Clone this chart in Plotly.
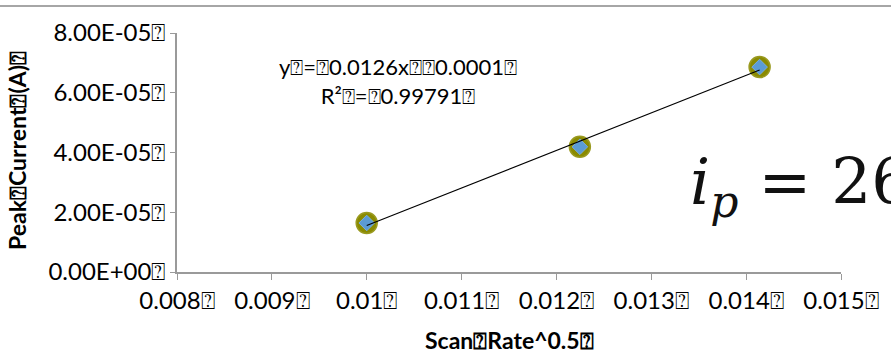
import numpy as np
import plotly.graph_objects as go

# ---- data ----
scan_rate_sqrt = [0.0100, 0.012247, 0.014142]
peak_current = [1.64e-5, 4.19e-5, 6.86e-5]

x_tick_vals = [0.008, 0.009, 0.010, 0.011, 0.012, 0.013, 0.014, 0.015]
x_tick_text = ["0.008⍰", "0.009⍰", "0.01⍰", "0.011⍰", "0.012⍰", "0.013⍰", "0.014⍰", "0.015⍰"]
y_tick_vals = [0.0, 2e-5, 4e-5, 6e-5, 8e-5]
y_tick_text = ["0.00E+00⍰", "2.00E-05⍰", "4.00E-05⍰", "6.00E-05⍰", "8.00E-05⍰"]

x_title = "Scan⍰Rate^0.5⍰"
y_title = "Peak⍰Current⍰(A)⍰"
eq_lines = ["y⍰=⍰0.0126x⍰⍰0.0001⍰", "R²⍰=⍰0.99791⍰"]
formula_text = "<i>i</i><sub><i>p</i></sub> = 268600"

# ---- linear trendline from the data ----
slope, intercept = np.polyfit(scan_rate_sqrt, peak_current, 1)
trend_x = [min(scan_rate_sqrt), max(scan_rate_sqrt)]
trend_y = [slope * v + intercept for v in trend_x]

FONT = "Lato"
GRAY = "#9a9a9a"

fig = go.Figure()
# olive rounded halo of the markers
fig.add_trace(go.Scatter(
    x=scan_rate_sqrt, y=peak_current, mode="markers",
    marker=dict(symbol="circle", size=21, color="#8a8a00",
                line=dict(color="#9a9a20", width=1.5)),
    showlegend=False, hoverinfo="skip"))
# blue diamond core
fig.add_trace(go.Scatter(
    x=scan_rate_sqrt, y=peak_current, mode="markers",
    marker=dict(symbol="diamond", size=12, color="#5b9bd5",
                line=dict(color="#78aee3", width=1)),
    showlegend=False, hoverinfo="skip"))
fig.add_trace(go.Scatter(
    x=trend_x, y=trend_y, mode="lines",
    line=dict(color="black", width=1.1),
    showlegend=False, hoverinfo="skip"))

L, R, T, B = 177, 50, 33, 90
W, H = 891, 362
pw, ph = W - L - R, H - T - B

def px_to_paper_x(px):
    return (px - L) / pw

def px_to_paper_y(py):
    return (H - B - py) / ph

fig.update_layout(
    width=W, height=H, autosize=False,
    margin=dict(l=L, r=R, t=T, b=B, pad=0),
    paper_bgcolor="white", plot_bgcolor="white",
    font=dict(family=FONT, size=24, color="black"),
    xaxis=dict(range=[0.008, 0.015], tickvals=x_tick_vals, ticktext=x_tick_text,
               showgrid=False, zeroline=False, showline=True, linecolor=GRAY, linewidth=1.5,
               ticks="outside", ticklen=6, tickcolor=GRAY, tickwidth=1.2,
               tickfont=dict(family=FONT, size=24)),
    yaxis=dict(range=[0, 8e-5], tickvals=y_tick_vals, ticktext=y_tick_text,
               showgrid=False, zeroline=False, showline=True, linecolor=GRAY, linewidth=1.5,
               ticks="outside", ticklen=5, tickcolor=GRAY, tickwidth=1.2,
               tickfont=dict(family=FONT, size=24)),
)

# top border line of the page
fig.add_shape(type="line", xref="paper", yref="paper",
              x0=px_to_paper_x(0), x1=px_to_paper_x(W),
              y0=px_to_paper_y(6), y1=px_to_paper_y(6),
              line=dict(color="#888888", width=1.5))

# axis titles
fig.add_annotation(xref="paper", yref="paper", x=px_to_paper_x(509), y=px_to_paper_y(340),
                   text="<b>" + x_title + "</b>", showarrow=False,
                   font=dict(family=FONT, size=23), xanchor="center", yanchor="middle")
fig.add_annotation(xref="paper", yref="paper", x=px_to_paper_x(17), y=px_to_paper_y(151),
                   text="<b>" + y_title + "</b>", showarrow=False, textangle=-90,
                   font=dict(family=FONT, size=23), xanchor="center", yanchor="middle")

# trendline equation
fig.add_annotation(xref="paper", yref="paper", x=px_to_paper_x(398), y=px_to_paper_y(81),
                   text="<br>".join(eq_lines), showarrow=False, align="center",
                   font=dict(family=FONT, size=22), xanchor="center", yanchor="middle")

# pasted formula (cut off at the right edge)
fig.add_annotation(xref="paper", yref="paper", x=px_to_paper_x(688), y=px_to_paper_y(186),
                   text=formula_text, showarrow=False, align="left",
                   font=dict(family="DejaVu Serif", size=63, color="#111111"),
                   xanchor="left", yanchor="middle")

fig.write_html("out.html")
